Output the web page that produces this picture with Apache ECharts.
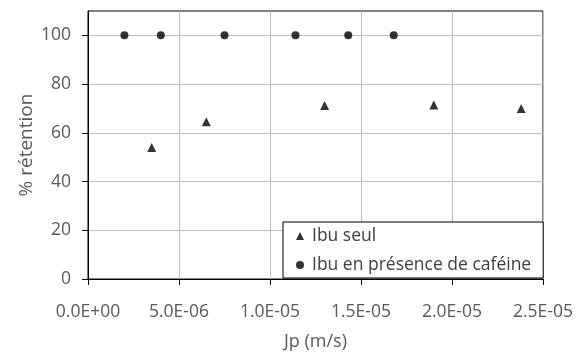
<!DOCTYPE html>
<html>
<head>
<meta charset="utf-8">
<script src="https://cdn.jsdelivr.net/npm/echarts@6/dist/echarts.min.js"></script>
<style>
  html, body { margin: 0; padding: 0; background: #fff; }
  #chart { width: 584px; height: 352px; }
</style>
</head>
<body>
<div id="chart"></div>
<script>
// Ibu seul (triangles)
var ibuSeulX = [3.5e-6, 6.5e-6, 1.3e-5, 1.9e-5, 2.38e-5]
var ibuSeulY = [54, 64.5, 71.2, 71.4, 70.0]
// Ibu en présence de caféine (ronds)
var ibuCafX = [2.0e-6, 4.0e-6, 7.5e-6, 1.14e-5, 1.43e-5, 1.68e-5]
var ibuCafY = [100, 100, 100, 100, 100, 100]
var yTicks = [0, 20, 40, 60, 80, 100]

var font = 'Open Sans'
var grey = '#595959'

function pairs (xs, ys) {
  return xs.map(function (x, i) { return [x, ys[i]] })
}

// format like Excel: 5.0E-06
function sci (v) {
  if (Math.abs(v) < 1e-12) return '0.0E+00'
  var s = v.toExponential(1).split('e')
  var exp = parseInt(s[1], 10)
  var sign = exp < 0 ? '-' : '+'
  var e = Math.abs(exp)
  return s[0] + 'E' + sign + (e < 10 ? '0' + e : e)
}

var chart = echarts.init(document.getElementById('chart'), null, { renderer: 'canvas' })
var option = {
  animation: false,
  backgroundColor: '#fff',
  textStyle: { fontFamily: font },
  grid: {
    left: 88,
    right: 41,
    top: 11,
    bottom: 73,
    show: true,
    borderColor: '#000',
    borderWidth: 1,
    outerBoundsMode: 'none'
  },
  xAxis: {
    type: 'value',
    min: 0,
    max: 2.5e-5,
    interval: 5e-6,
    name: 'Jp (m/s)',
    nameLocation: 'middle',
    nameGap: 54,
    nameMoveOverlap: false,
    nameTextStyle: { color: grey, fontSize: 18, fontFamily: font },
    axisLine: { show: true, lineStyle: { color: '#000', width: 1 } },
    axisTick: { show: true, length: 6, lineStyle: { color: '#000' } },
    axisLabel: {
      color: grey,
      fontSize: 17.5,
      fontFamily: font,
      margin: 24,
      formatter: sci
    },
    splitLine: { show: true, lineStyle: { color: '#bfbfbf', width: 1 } }
  },
  yAxis: {
    type: 'value',
    min: 0,
    max: 110,
    interval: 20,
    name: '% rétention',
    nameLocation: 'middle',
    nameGap: 52,
    nameMoveOverlap: false,
    nameTextStyle: { color: grey, fontSize: 19, fontFamily: font },
    axisLine: { show: true, lineStyle: { color: '#000', width: 1 } },
    axisTick: { show: true, length: 6, lineStyle: { color: '#000' }, customValues: yTicks },
    axisLabel: {
      color: grey,
      fontSize: 17.5,
      fontFamily: font,
      margin: 17,
      customValues: yTicks
    },
    splitLine: { show: true, lineStyle: { color: '#bfbfbf', width: 1 } }
  },
  legend: {
    orient: 'vertical',
    left: 283,
    top: 222,
    padding: [5, 12, 4, 13],
    itemGap: 11,
    itemWidth: 8,
    itemHeight: 8,
    backgroundColor: '#fff',
    borderColor: '#000',
    borderWidth: 1,
    borderRadius: 0,
    textStyle: { color: '#404040', fontSize: 17.5, fontFamily: font, padding: [0, 0, 0, 3] },
    data: ['Ibu seul', 'Ibu en présence de caféine']
  },
  series: [
    {
      name: 'Ibu seul',
      type: 'scatter',
      symbol: 'triangle',
      symbolSize: 9,
      itemStyle: { color: '#000' },
      data: pairs(ibuSeulX, ibuSeulY)
    },
    {
      name: 'Ibu en présence de caféine',
      type: 'scatter',
      symbol: 'circle',
      symbolSize: 8,
      itemStyle: { color: '#000' },
      data: pairs(ibuCafX, ibuCafY)
    }
  ]
}
chart.setOption(option)
</script>
</body>
</html>
